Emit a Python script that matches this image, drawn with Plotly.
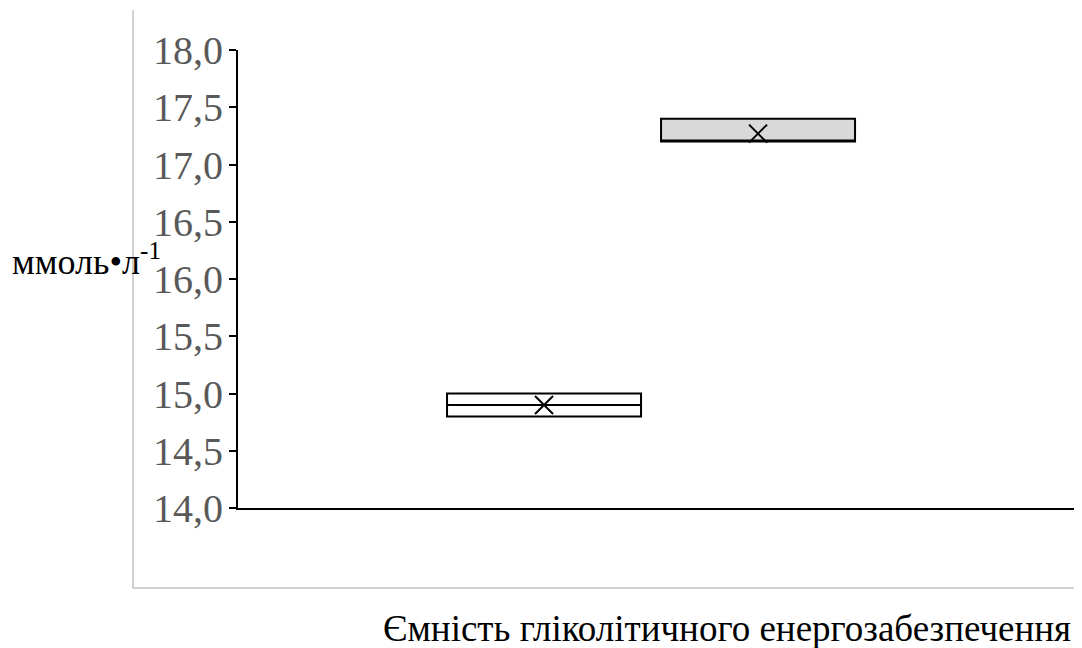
import plotly.graph_objects as go

# Data
series_names = ["Група 1", "Група 2"]
q1_vals = [14.8, 17.2]
median_vals = [14.9, 17.2]
q3_vals = [15.0, 17.4]
mean_vals = [14.9, 17.27]
fill_colors = ["#ffffff", "#d9d9d9"]
y_ticks = [14.0, 14.5, 15.0, 15.5, 16.0, 16.5, 17.0, 17.5, 18.0]
x_title = "Ємність гліколітичного енергозабезпечення"
y_title = "ммоль•л<sup>-1</sup>"

FONT = "Liberation Serif"

fig = go.Figure()
for i, name in enumerate(series_names):
    fig.add_trace(go.Box(
        x=[i], q1=[q1_vals[i]], median=[median_vals[i]], q3=[q3_vals[i]],
        lowerfence=[q1_vals[i]], upperfence=[q3_vals[i]],
        width=0.9065, fillcolor=fill_colors[i],
        line=dict(color="black", width=2), name=name, boxpoints=False,
        hoverinfo="skip", showlegend=False,
    ))
    fig.add_trace(go.Scatter(
        x=[i], y=[mean_vals[i]], mode="markers",
        marker=dict(symbol="x-thin", size=18, line=dict(color="black", width=2)),
        showlegend=False, hoverinfo="skip",
    ))

fig.update_layout(
    template="none",
    width=1074, height=640,
    margin=dict(l=230, r=7, t=42, b=140),
    paper_bgcolor="white", plot_bgcolor="white",
    separators=", ",
    xaxis=dict(range=[-1.43, 2.481], showticklabels=False, ticks="",
               showgrid=False, zeroline=False, showline=True,
               linecolor="black", linewidth=2),
    yaxis=dict(range=[14, 18], tickvals=y_ticks, tickformat=".1f",
               ticks="outside", ticklen=7, tickwidth=2, tickcolor="black",
               showline=True, linecolor="black", linewidth=2,
               showgrid=False, zeroline=False, ticklabelstandoff=-2,
               tickfont=dict(family=FONT, size=40, color="#595959")),
    shapes=[
        dict(type="line", xref="paper", yref="paper",
             x0=(133 - 238) / 837, x1=(133 - 238) / 837,
             y0=(508 - 10) / 458, y1=(508 - 588) / 458,
             line=dict(color="#a6a6a6", width=1), layer="below"),
        dict(type="line", xref="paper", yref="paper",
             x0=(133 - 238) / 837, x1=(1082 - 238) / 837,
             y0=(508 - 588) / 458, y1=(508 - 588) / 458,
             line=dict(color="#a6a6a6", width=1), layer="below"),
    ],
    annotations=[
        dict(text=x_title, xref="paper", yref="paper",
             x=(1073 - 238) / 837, y=(508 - 628) / 458,
             xanchor="right", yanchor="middle", showarrow=False,
             font=dict(family=FONT, size=37, color="black")),
        dict(text=y_title, xref="paper", yref="paper",
             x=(10 - 238) / 837, y=(508 - 259) / 458,
             xanchor="left", yanchor="middle", showarrow=False,
             font=dict(family=FONT, size=36, color="black")),
    ],
)

fig.write_html("out.html")
